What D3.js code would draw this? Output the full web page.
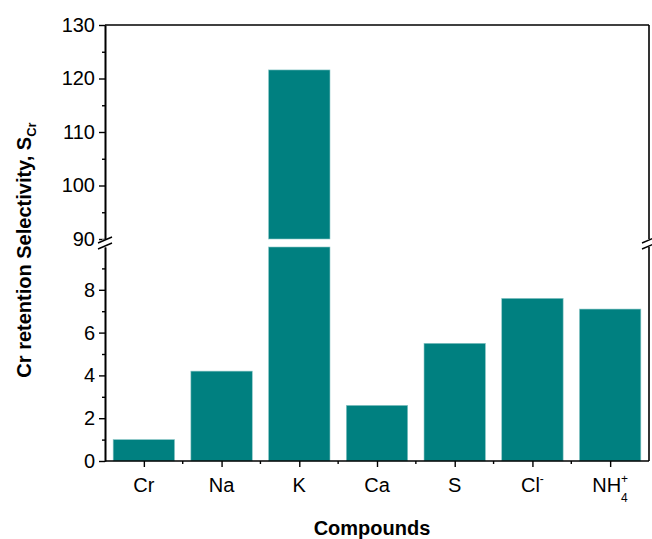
<!DOCTYPE html>
<html>
<head>
<meta charset="utf-8">
<script src="https://cdn.jsdelivr.net/npm/d3@7"></script>
<style>
  html, body { margin: 0; padding: 0; background: #fff; }
  svg { display: block; font-family: "Liberation Sans", Arial, sans-serif; }
</style>
</head>
<body>
<svg id="chart" width="652" height="539"></svg>
<script>
// Cr retention selectivity per compound
const categories = ["Cr", "Na", "K", "Ca", "S", "Cl", "NH4"];
const values = [1.0, 4.2, 121.6, 2.6, 5.5, 7.6, 7.1];
const lowerTicks = [0, 2, 4, 6, 8];
const upperTicks = [90, 100, 110, 120, 130];

const svg = d3.select("#chart");
const left = 105, right = 649;
const lowerBottom = 461, lowerTop = 247;   // 0 .. 10
const upperBottom = 239, upperTop = 25;    // 90 .. 130
const teal = "#008080";

const x = d3.scaleBand().domain(categories).range([left, right]).paddingInner(0.21).paddingOuter(0.105);
const xPos = d3.scalePoint().domain(categories).range([left, right]).padding(0.5);
const yLow = d3.scaleLinear().domain([0, 10]).range([lowerBottom, lowerTop]);
const yHigh = d3.scaleLinear().domain([90, 130]).range([upperBottom, upperTop]);

// bars: lower segment clipped at 10, upper segment drawn only for values above 90
const bars = svg.append("g");
categories.forEach((c, i) => {
  const v = values[i];
  const lv = Math.min(v, 10);
  bars.append("rect")
    .attr("x", x(c)).attr("width", x.bandwidth())
    .attr("y", yLow(lv)).attr("height", yLow(0) - yLow(lv))
    .attr("fill", teal).attr("stroke", "#8cc7c7").attr("stroke-width", 0.6);
  if (v > 90) {
    bars.append("rect")
      .attr("x", x(c)).attr("width", x.bandwidth())
      .attr("y", yHigh(v)).attr("height", yHigh(90) - yHigh(v))
      .attr("fill", teal).attr("stroke", "#8cc7c7").attr("stroke-width", 0.6);
  }
});

const axisStyle = g => {
  g.selectAll("path.domain").attr("stroke", "#000").attr("stroke-width", 1.6);
  g.selectAll(".tick line").attr("stroke", "#000").attr("stroke-width", 1.4);
  g.selectAll(".tick text").attr("font-size", 20).attr("fill", "#000")
    .attr("font-family", "'Liberation Sans', Arial, sans-serif");
};

// lower y axis
svg.append("g").attr("transform", `translate(${left},0)`)
  .call(d3.axisLeft(yLow).tickValues(lowerTicks).tickSize(6).tickPadding(4).tickSizeOuter(0))
  .call(axisStyle);
svg.append("g").attr("transform", `translate(${left},0)`)
  .call(d3.axisLeft(yLow).tickValues([1, 3, 5, 7, 9]).tickSize(3).tickFormat("").tickSizeOuter(0))
  .call(axisStyle);

// upper y axis
svg.append("g").attr("transform", `translate(${left},0)`)
  .call(d3.axisLeft(yHigh).tickValues(upperTicks).tickSize(6).tickPadding(4).tickSizeOuter(0))
  .call(axisStyle);
svg.append("g").attr("transform", `translate(${left},0)`)
  .call(d3.axisLeft(yHigh).tickValues([95, 105, 115, 125]).tickSize(3).tickFormat("").tickSizeOuter(0))
  .call(axisStyle);

// right frame segments
svg.append("line").attr("x1", right).attr("x2", right).attr("y1", upperTop).attr("y2", upperBottom)
  .attr("stroke", "#000").attr("stroke-width", 1.6);
svg.append("line").attr("x1", right).attr("x2", right).attr("y1", lowerTop).attr("y2", lowerBottom)
  .attr("stroke", "#000").attr("stroke-width", 1.6);
// top frame
svg.append("line").attr("x1", left).attr("x2", right).attr("y1", upperTop).attr("y2", upperTop)
  .attr("stroke", "#000").attr("stroke-width", 1.6);

// x axis with major ticks at categories and minor ticks between
const gx = svg.append("g").attr("transform", `translate(0,${lowerBottom})`)
  .call(d3.axisBottom(xPos).tickSize(6).tickSizeOuter(0).tickFormat(""))
  .call(axisStyle);
gx.select("path.domain").attr("d", `M${left},0H${right}`);
const step = xPos.step();
const minorX = d3.range(1, categories.length).map(i => left + i * step);
svg.append("g").selectAll("line").data(minorX).join("line")
  .attr("x1", d => d).attr("x2", d => d).attr("y1", lowerBottom).attr("y2", lowerBottom + 3)
  .attr("stroke", "#000").attr("stroke-width", 1.4);

// category labels with chemical notation
const labY = 492;
const labG = svg.append("g").attr("font-size", 20).attr("fill", "#000").attr("text-anchor", "middle");
categories.forEach(c => {
  const t = labG.append("text").attr("x", xPos(c)).attr("y", labY);
  if (c === "Cl") {
    t.append("tspan").text("Cl");
    t.append("tspan").attr("font-size", 12).attr("dy", -9).text("-");
  } else if (c === "NH4") {
    t.append("tspan").text("NH");
    t.append("tspan").attr("font-size", 12).attr("dy", -9).text("+");
    t.append("tspan").attr("font-size", 12).attr("dx", -7).attr("dy", 19).text("4");
  } else {
    t.text(c);
  }
});

// break marks on both vertical axes
[left, right].forEach(ax => {
  svg.append("rect").attr("x", ax - 3).attr("y", upperBottom + 0.5).attr("width", 6).attr("height", lowerTop - upperBottom - 1)
    .attr("fill", "#fff");
  [upperBottom + 1, lowerTop - 1].forEach(yy => {
    svg.append("line").attr("x1", ax - 7).attr("x2", ax + 7).attr("y1", yy + 3).attr("y2", yy - 3)
      .attr("stroke", "#000").attr("stroke-width", 1.4);
  });
});

// axis titles
svg.append("text").attr("x", 372).attr("y", 535).attr("text-anchor", "middle")
  .attr("font-size", 20).attr("font-weight", "bold").text("Compounds");
const yt = svg.append("text").attr("transform", "translate(31,250) rotate(-90)")
  .attr("text-anchor", "middle").attr("font-size", 20).attr("font-weight", "bold");
yt.append("tspan").text("Cr retention Selectivity, S");
yt.append("tspan").attr("font-size", 13).attr("dy", 5).text("Cr");
</script>
</body>
</html>
